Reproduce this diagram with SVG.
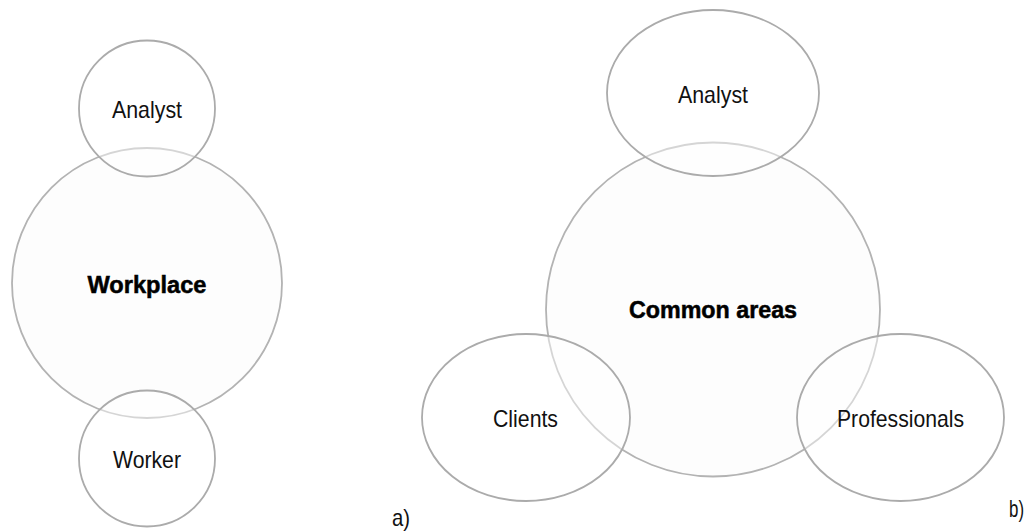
<svg xmlns="http://www.w3.org/2000/svg" width="1031" height="531" viewBox="0 0 1031 531">
  <style>
    .bubble { fill: #ffffff; fill-opacity: 0.45; stroke: #ababab; stroke-width: 1.8; }
    .hub { fill: #fdfdfd; stroke: #b3b3b3; stroke-width: 1.8; }
    .lbl { font-family: "Liberation Sans", Arial, sans-serif; font-size: 24px; fill: #111111; text-anchor: middle; }
    .core { font-family: "Liberation Sans", Arial, sans-serif; font-size: 23.3px; font-weight: bold; fill: #000000; stroke: #000000; stroke-width: 0.5; text-anchor: middle; }
    .tag { font-family: "Liberation Sans", Arial, sans-serif; font-size: 24px; fill: #111111; }
  </style>

  <rect width="1031" height="531" fill="#ffffff"/>

  <!-- a) Workplace cluster -->
  <g id="workplace">
    <circle class="hub" cx="147" cy="283" r="135"/>
    <text class="core" x="147" y="292.5" textLength="119" lengthAdjust="spacingAndGlyphs">Workplace</text>
  </g>
  <g id="analyst-a">
    <circle class="bubble" cx="147" cy="108.5" r="68"/>
    <text class="lbl" x="147" y="118" textLength="70" lengthAdjust="spacingAndGlyphs">Analyst</text>
  </g>
  <g id="worker">
    <circle class="bubble" cx="147" cy="458.5" r="68"/>
    <text class="lbl" x="147" y="468" textLength="68" lengthAdjust="spacingAndGlyphs">Worker</text>
  </g>
  <text id="label-a" class="tag" x="392" y="526" textLength="18" lengthAdjust="spacingAndGlyphs">a)</text>

  <!-- b) Common areas cluster -->
  <g id="common-areas">
    <circle class="hub" cx="713" cy="309.5" r="167"/>
    <text class="core" x="713" y="318" textLength="168" lengthAdjust="spacingAndGlyphs">Common areas</text>
  </g>
  <g id="analyst-b">
    <ellipse class="bubble" cx="713" cy="93" rx="106" ry="83"/>
    <text class="lbl" x="713" y="103" textLength="70" lengthAdjust="spacingAndGlyphs">Analyst</text>
  </g>
  <g id="clients">
    <ellipse class="bubble" cx="526" cy="417.5" rx="104" ry="83.5"/>
    <text class="lbl" x="525.5" y="427" textLength="65" lengthAdjust="spacingAndGlyphs">Clients</text>
  </g>
  <g id="professionals">
    <ellipse class="bubble" cx="900.5" cy="417.5" rx="103.5" ry="83.5"/>
    <text class="lbl" x="900.5" y="427" textLength="127" lengthAdjust="spacingAndGlyphs">Professionals</text>
  </g>
  <text id="label-b" class="tag" x="1009" y="517" textLength="15" lengthAdjust="spacingAndGlyphs">b)</text>

  <!-- no connectors: the sets are related by overlap only -->
  <g id="connectors"/>
</svg>
